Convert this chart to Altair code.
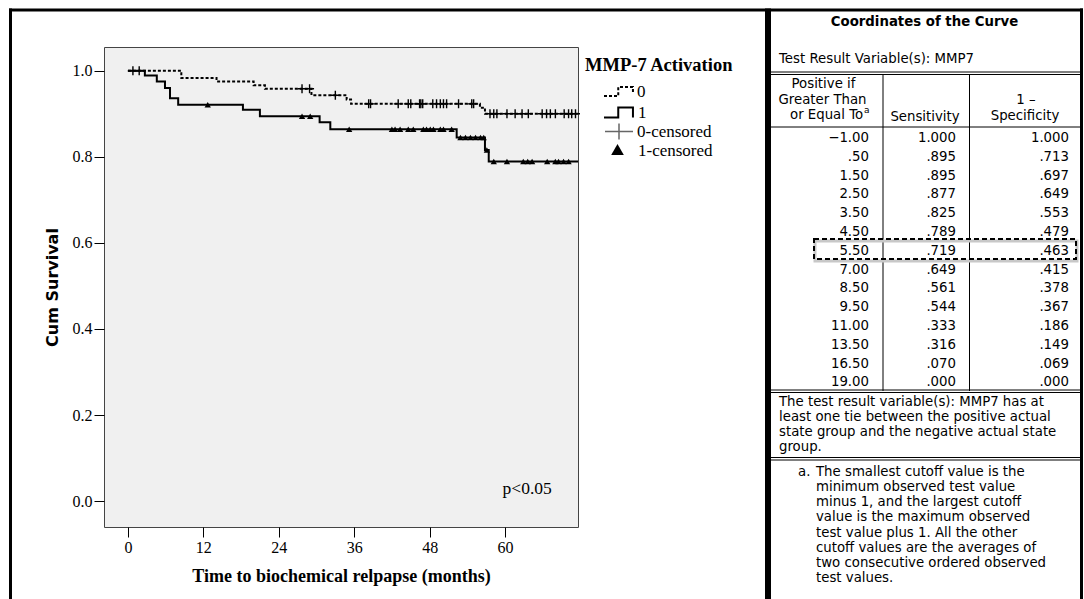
import altair as alt
import pandas as pd
import numpy as np

# ---------------- layout constants (page pixels) ----------------
OX, OY = 104, 47          # plot-area origin on the page
W, H = 474, 480           # plot-area size

# ---------------- Kaplan-Meier data ----------------
# group 0 (MMP-7 activation = 0, dotted)
t0_steps = [0, 8.5, 14.1, 20.0, 21.8, 29.2, 34.8, 35.5, 56.0, 56.8, 71.6]
s0_steps = [1.0, 0.983, 0.975, 0.966, 0.958, 0.943, 0.933, 0.923, 0.914, 0.900, 0.900]
# group 1 (MMP-7 activation = 1, solid)
t1_steps = [0, 2.7, 4.6, 5.9, 6.7, 8.0, 18.3, 21.0, 30.5, 32.2, 52.3, 56.8, 57.4, 71.6]
s1_steps = [1.0, 0.989, 0.975, 0.960, 0.936, 0.921, 0.909, 0.894, 0.880, 0.864, 0.845, 0.816, 0.789, 0.789]

# censoring times
cens0_t = [0.8, 1.8, 27.7, 28.9, 33.0, 38.3, 38.6, 43.0, 44.6, 45.0, 46.4, 46.6, 46.9,
           48.5, 49.1, 49.7, 50.2, 50.7, 52.6, 54.7, 55.0, 57.6, 58.2, 58.7, 60.3, 61.6,
           62.7, 63.7, 65.9, 66.6, 67.2, 68.0, 69.4, 70.1, 70.6, 71.2]
cens1_t = [12.7, 27.7, 29.0, 35.2, 42.0, 42.5, 43.3, 44.6, 45.4, 47.0, 47.5, 48.1, 48.6,
           49.7, 50.2, 51.5, 52.9, 53.7, 54.5, 55.3, 56.1, 56.6, 57.1, 58.2, 60.3, 62.9,
           63.6, 64.3, 66.7, 68.0, 68.5, 69.3, 70.1]

x_ticks = [0, 12, 24, 36, 48, 60]
y_ticks = [0.0, 0.2, 0.4, 0.6, 0.8, 1.0]

legend_title = "MMP-7 Activation"
legend_labels = ["0", "1", "0-censored", "1-censored"]
p_text = "p<0.05"

# ---------------- ROC coordinates table ----------------
cutoffs = ["\u22121.00", ".50", "1.50", "2.50", "3.50", "4.50", "5.50", "7.00",
           "8.50", "9.50", "11.00", "13.50", "16.50", "19.00"]
sensitivity = ["1.000", ".895", ".895", ".877", ".825", ".789", ".719", ".649",
               ".561", ".544", ".333", ".316", ".070", ".000"]
one_minus_spec = ["1.000", ".713", ".697", ".649", ".553", ".479", ".463", ".415",
                  ".378", ".367", ".186", ".149", ".069", ".000"]

note_lines = ["The test result variable(s): MMP7 has at",
              "least one tie between the positive actual",
              "state group and the negative actual state",
              "group."]
foot_lines = ["The smallest cutoff value is the",
              "minimum observed test value",
              "minus 1, and the largest cutoff",
              "value is the maximum observed",
              "test value plus 1. All the other",
              "cutoff values are the averages of",
              "two consecutive ordered observed",
              "test values."]


def lookup(ts, ss, times):
    idx = np.searchsorted(np.array(ts), np.array(times), side="right") - 1
    return [ss[i] for i in idx]


line0 = pd.DataFrame({"t": t0_steps, "s": s0_steps})
line1 = pd.DataFrame({"t": t1_steps, "s": s1_steps})
cens0 = pd.DataFrame({"t": cens0_t, "s": lookup(t0_steps, s0_steps, cens0_t)})
cens1 = pd.DataFrame({"t": cens1_t, "s": lookup(t1_steps, s1_steps, cens1_t)})

xs = alt.Scale(domain=[-3.8, 71.6], nice=False, zero=False)
ys = alt.Scale(domain=[-0.06, 1.055], nice=False, zero=False)

x_axis = alt.Axis(values=x_ticks, tickSize=10, domain=False, grid=False, format="d",
                  labelFont="Liberation Serif", labelFontSize=16, labelColor="black",
                  labelPadding=2, tickColor="black",
                  title="Time to biochemical relpapse (months)",
                  titleFont="Liberation Serif", titleFontSize=18, titleFontWeight="bold",
                  titleColor="black", titlePadding=12)
y_axis = alt.Axis(values=y_ticks, tickSize=10, domain=False, grid=False, format=".1f",
                  labelFont="Liberation Serif", labelFontSize=16, labelColor="black",
                  labelPadding=2, tickColor="black",
                  title="Cum Survival", titleFont="DejaVu Sans", titleFontSize=16,
                  titleFontWeight="bold", titleColor="black", titlePadding=12)

X = alt.X("t:Q", scale=xs, axis=x_axis)
Y = alt.Y("s:Q", scale=ys, axis=y_axis)

l0 = alt.Chart(line0).mark_line(interpolate="step-after", color="black", strokeWidth=2,
                                strokeDash=[3, 2]).encode(x=X, y=Y)
l1 = alt.Chart(line1).mark_line(interpolate="step-after", color="black",
                                strokeWidth=2).encode(x=X, y=Y)
PLUS = "M-1,0L1,0M0,-1L0,1"
p0 = alt.Chart(cens0).mark_point(shape=PLUS, size=81, filled=False, color="black",
                                 strokeWidth=1.4, opacity=1).encode(x=X, y=Y)
p1 = alt.Chart(cens1).mark_point(shape="triangle-up", size=40, filled=True, color="black",
                                 opacity=1).encode(x=X, y=Y)
ptxt = alt.Chart(pd.DataFrame({"t": [59.6], "s": [0.028], "label": [p_text]})).mark_text(
    align="left", baseline="middle", font="Liberation Serif", fontSize=17.5, color="black"
).encode(x=X, y=Y, text="label:N")

km = alt.layer(l0, l1, p0, p1, ptxt)

# ---------------- pixel-space decorations (frames, legend, table) ----------------
def px(items):
    df = pd.DataFrame(items, columns=["x", "y", "text"])
    df["x"] = df["x"] - OX
    df["y"] = df["y"] - OY
    return df


def text_layer(items, size, weight="normal", align="left", font="DejaVu Sans", color="black"):
    return alt.Chart(px(items)).mark_text(
        align=align, baseline="middle", fontSize=size, fontWeight=weight, font=font, color=color
    ).encode(x=alt.X("x:Q", scale=None), y=alt.Y("y:Q", scale=None), text="text:N")


rules = [
    (9, 10, 767, 10, 3),
    (10.5, 8.5, 10.5, 600, 3),
    (767, 10, 1083, 10, 3),
    (768, 8.5, 768, 600, 6),
    (1081.5, 8.5, 1081.5, 600, 3),
    (771, 72, 1081, 72, 1),
    (771, 74.5, 1081, 74.5, 1),
    (771, 127, 1081, 127, 1),
    (883, 74, 883, 391, 1),
    (969.5, 74, 969.5, 391, 1),
    (771, 390, 1081, 390, 1),
    (771, 392.5, 1081, 392.5, 1),
    (771, 457.5, 1081, 457.5, 1),
    (771, 460, 1081, 460, 1),
]
rdf = pd.DataFrame(rules, columns=["x", "y", "x2", "y2", "w"])
rdf[["x", "x2"]] -= OX
rdf[["y", "y2"]] -= OY
rule_layer = alt.Chart(rdf).mark_rule(color="black").encode(
    x=alt.X("x:Q", scale=None), x2="x2:Q",
    y=alt.Y("y:Q", scale=None), y2="y2:Q",
    strokeWidth=alt.StrokeWidth("w:Q", scale=None))

# dashed highlight box around the 5.50 row (with faint shadow)
boxdf = pd.DataFrame({"x": [815 - OX], "x2": [1077 - OX], "y": [241 - OY], "y2": [261 - OY]})
shadow = alt.Chart(boxdf).mark_rect(fillOpacity=0, stroke="#c8c8c8", strokeWidth=3).encode(
    x=alt.X("x:Q", scale=None), x2="x2:Q", y=alt.Y("y:Q", scale=None), y2="y2:Q")
boxdf2 = pd.DataFrame({"x": [814 - OX], "x2": [1076 - OX], "y": [239 - OY], "y2": [259 - OY]})
dbox = alt.Chart(boxdf2).mark_rect(fillOpacity=0, stroke="black", strokeWidth=2,
                                   strokeDash=[5, 3]).encode(
    x=alt.X("x:Q", scale=None), x2="x2:Q", y=alt.Y("y:Q", scale=None), y2="y2:Q")

# legend
leg_title = text_layer([(585, 65, legend_title)], 18.5, "bold", font="Liberation Serif")
leg_labels = text_layer([(637, 92, legend_labels[0]), (638, 113, legend_labels[1]),
                         (637, 131.5, legend_labels[2]), (638, 150.5, legend_labels[3])],
                        17, font="Liberation Serif")
STEP = "M-1,0.33L-0.05,0.33L-0.05,-0.33L0.93,-0.33L0.93,0.33"
STEP0 = "M-1,0.3L-0.05,0.3L-0.05,-0.3L0.93,-0.3L0.93,0.15"
sym0 = alt.Chart(px([(619, 91.5, "")])).mark_point(
    shape=STEP0, size=900, filled=False, color="black", strokeWidth=2, strokeDash=[3, 2],
    opacity=1).encode(x=alt.X("x:Q", scale=None), y=alt.Y("y:Q", scale=None))
sym1 = alt.Chart(px([(619, 112.5, "")])).mark_point(
    shape=STEP, size=900, filled=False, color="black", strokeWidth=2,
    opacity=1).encode(x=alt.X("x:Q", scale=None), y=alt.Y("y:Q", scale=None))
sym2 = alt.Chart(px([(619, 131.5, "")])).mark_point(
    shape="M-1,0L1,0M0,-0.58L0,0.58", size=784, filled=False, color="#666",
    strokeWidth=1.5, opacity=1).encode(x=alt.X("x:Q", scale=None), y=alt.Y("y:Q", scale=None))
sym3 = alt.Chart(px([(617.5, 149.5, "")])).mark_point(
    shape="triangle-up", size=160, filled=True, color="black",
    opacity=1).encode(x=alt.X("x:Q", scale=None), y=alt.Y("y:Q", scale=None))

# table texts
TF = 13.3
t_title = text_layer([(924.5, 22, "Coordinates of the Curve")], 13.3, "bold", align="center")
t_var = text_layer([(779, 59, "Test Result Variable(s): MMP7")], TF)
t_head = text_layer([(823.5, 84, "Positive if"), (822.5, 99.5, "Greater Than"),
                     (925, 117, "Sensitivity"),
                     (1026, 100, "1 \u2013"), (1025, 116, "Specificity")], TF, align="center")
t_head2 = text_layer([(790, 115, "or Equal To")], TF)
t_sup = text_layer([(864, 110, "a")], 9)
t_note = text_layer([(779, 401.5 + 15.2 * i, s) for i, s in enumerate(note_lines)], TF)
t_fa = text_layer([(798, 472, "a.")], TF)
t_foot = text_layer([(816, 472 + 15.15 * i, s) for i, s in enumerate(foot_lines)], TF)

tab = pd.DataFrame({"row": list(range(len(cutoffs))), "cut": cutoffs,
                    "sens": sensitivity, "spec": one_minus_spec})
row_scale = alt.Scale(domain=[0, 13], range=[138 - OY, 382.4 - OY])
TY = alt.Y("row:Q", scale=row_scale, axis=None)


def col_layer(field, right_px):
    return alt.Chart(tab).mark_text(align="right", baseline="middle", font="DejaVu Sans",
                                    fontSize=TF, color="black").encode(
        x=alt.value(right_px - OX), y=TY, text=f"{field}:N")


table = alt.layer(
    rule_layer, shadow, dbox,
    col_layer("cut", 869), col_layer("sens", 956), col_layer("spec", 1069),
    t_title, t_var, t_head, t_head2, t_sup, t_note, t_fa, t_foot,
    leg_title, leg_labels, sym0, sym1, sym2, sym3,
)

chart = alt.layer(km, table).resolve_scale(y="independent").properties(
    width=W, height=H,
    padding={"left": OX, "top": OY, "right": 1084 - OX - W, "bottom": 599 - OY - H},
    autosize=alt.AutoSizeParams(type="none"),
    background="white",
).configure_view(fill="#f0f0f0", stroke="#444", strokeWidth=1)

chart.save("out.html", embed_options={"renderer": "svg", "actions": False})
